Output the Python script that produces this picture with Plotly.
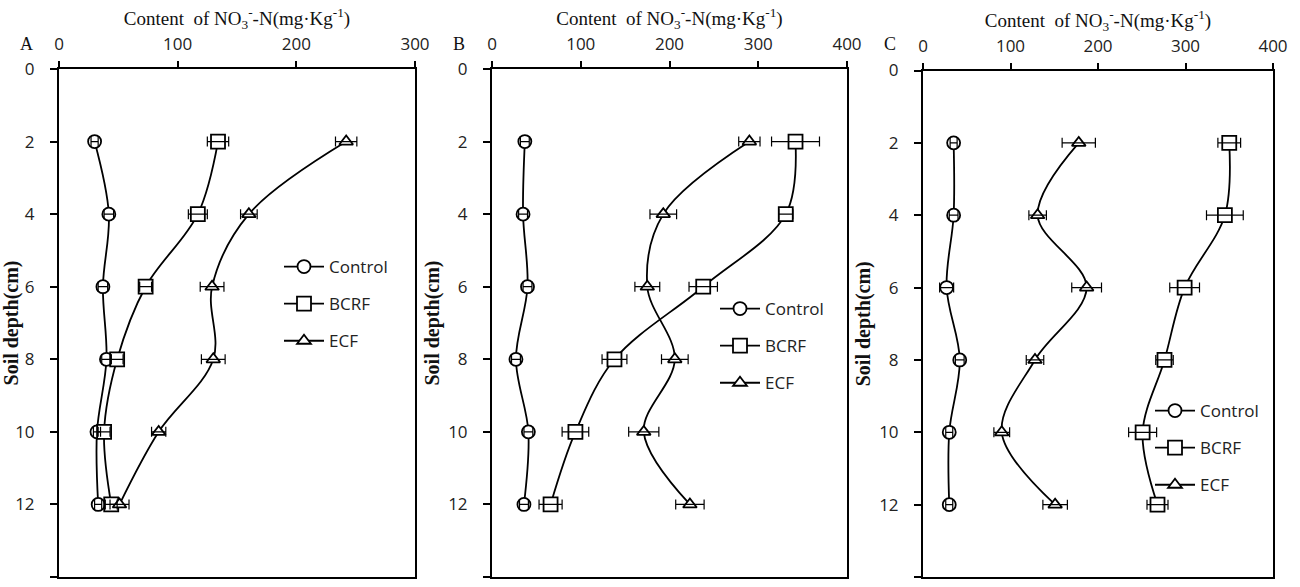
import plotly.graph_objects as go

# Soil depth (cm) of each sampling layer
depth = [2, 4, 6, 8, 10, 12]

# Panel A: NO3--N content (mg/kg) and standard errors
ctrl_a = [30, 42, 37, 40, 32, 33]
bcrf_a = [134, 117, 73, 49, 38, 44]
ecf_a = [242, 160, 129, 130, 84, 51]
ctrl_a_err = [3, 4, 4, 4, 3, 3]
bcrf_a_err = [9, 8, 5, 5, 5, 5]
ecf_a_err = [9, 7, 10, 10, 6, 8]

# Panel B
ctrl_b = [37, 35, 40, 27, 41, 36]
bcrf_b = [342, 331, 238, 138, 94, 66]
ecf_b = [290, 193, 175, 206, 171, 223]
ctrl_b_err = [5, 5, 5, 5, 5, 5]
bcrf_b_err = [27, 8, 16, 14, 15, 13]
ecf_b_err = [12, 15, 14, 15, 17, 16]

# Panel C
ctrl_c = [35, 35, 27, 42, 30, 30]
bcrf_c = [350, 345, 299, 276, 251, 268]
ecf_c = [178, 131, 187, 128, 90, 151]
ctrl_c_err = [4, 5, 8, 5, 4, 4]
bcrf_c_err = [13, 21, 17, 10, 16, 12]
ecf_c_err = [19, 10, 17, 10, 9, 14]

series_names = ["Control", "BCRF", "ECF"]
panel_labels = ["A", "B", "C"]
x_max = [300, 400, 400]
depth_ticks = [0, 2, 4, 6, 8, 10, 12, 14]

panels = [
    [(ctrl_a, ctrl_a_err), (bcrf_a, bcrf_a_err), (ecf_a, ecf_a_err)],
    [(ctrl_b, ctrl_b_err), (bcrf_b, bcrf_b_err), (ecf_b, ecf_b_err)],
    [(ctrl_c, ctrl_c_err), (bcrf_c, bcrf_c_err), (ecf_c, ecf_c_err)],
]

symbols = ["circle", "square", "triangle-up"]
msizes = [13, 14, 12]

W, H = 1300, 587
# plot-area pixel boxes (left, right, top, bottom)
boxes = [(59, 415, 69, 577), (492, 847, 69, 577), (923, 1273, 70.5, 577)]
legend_pos = [(279, 249), (715, 291), (1150, 393)]

SERIF = "Liberation Serif"
SANS = "Open Sans"

fig = go.Figure()

for p, series in enumerate(panels):
    sfx = "" if p == 0 else str(p + 1)
    leg = "legend" if p == 0 else "legend" + str(p + 1)
    for s, (vals, errs) in enumerate(series):
        fig.add_trace(go.Scatter(
            x=vals, y=depth, mode="lines+markers",
            name=series_names[s], legend=leg, legendgroup=f"{p}-{s}",
            line=dict(color="black", width=1.8, shape="spline"),
            marker=dict(symbol=symbols[s], size=msizes[s], color="white",
                        line=dict(color="black", width=1.8)),
            xaxis="x" + sfx, yaxis="y" + sfx,
        ))
    # error bars on top of the markers
    for s, (vals, errs) in enumerate(series):
        fig.add_trace(go.Scatter(
            x=vals, y=depth, mode="markers", showlegend=False,
            marker=dict(size=2, opacity=0),
            error_x=dict(type="data", array=errs, visible=True,
                         color="black", thickness=1.2, width=5),
            xaxis="x" + sfx, yaxis="y" + sfx, hoverinfo="skip",
        ))

layout = dict(
    width=W, height=H,
    margin=dict(l=0, r=0, t=0, b=0, autoexpand=False),
    paper_bgcolor="white", plot_bgcolor="white",
    showlegend=True,
)

title_text = "Content  of NO<sub>3</sub><sup>-</sup>-N(mg·Kg<sup>-1</sup>)"

annotations = []
for p in range(3):
    sfx = "" if p == 0 else str(p + 1)
    l, r, t, b = boxes[p]
    layout["xaxis" + sfx] = dict(
        domain=[l / W, r / W], anchor="y" + sfx, side="top",
        range=[0, x_max[p]], dtick=100, tick0=0,
        showline=True, linecolor="black", linewidth=2, mirror=True,
        ticks="outside", ticklen=6, tickwidth=1.5, tickcolor="black",
        showgrid=False, zeroline=False, automargin=False,
        tickfont=dict(family=SANS, size=17, color="#222"),
        ticklabelstandoff=4,
        title=dict(text=title_text, font=dict(family=SERIF, size=19, color="#111"),
                   standoff=1),
    )
    layout["yaxis" + sfx] = dict(
        domain=[1 - b / H, 1 - t / H], anchor="x" + sfx,
        range=[14, 0], tickvals=depth_ticks,
        showline=True, linecolor="black", linewidth=2, mirror=True,
        ticks="outside", ticklen=7, tickwidth=1.5, tickcolor="black",
        showgrid=False, zeroline=False, automargin=False,
        tickfont=dict(family=SANS, size=17, color="#222"),
        ticklabelstandoff=12,
        title=dict(text="<b>Soil depth(cm)</b>",
                   font=dict(family=SERIF, size=20, color="#111"),
                   standoff=3),
    )
    lx, ly = legend_pos[p]
    key = "legend" if p == 0 else "legend" + str(p + 1)
    layout[key] = dict(
        x=lx / W, y=1 - ly / H, xanchor="left", yanchor="top",
        bgcolor="rgba(0,0,0,0)", borderwidth=0,
        font=dict(family=SANS, size=17, color="#222"),
        itemwidth=40, tracegroupgap=12,
    )
    annotations.append(dict(
        text=panel_labels[p], xref="paper", yref="paper",
        x=(l - 33) / W, y=1 - 44 / H, xanchor="center", yanchor="middle",
        showarrow=False, font=dict(family=SERIF, size=18, color="#111"),
    ))

layout["annotations"] = annotations
fig.update_layout(**layout)

fig.write_html("out.html")
